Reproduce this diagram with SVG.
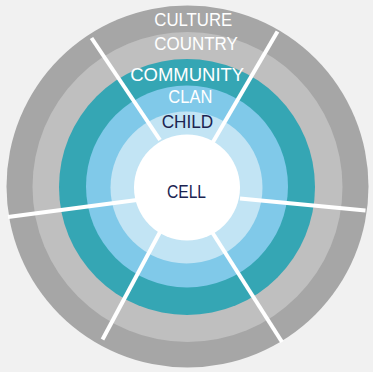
<svg xmlns="http://www.w3.org/2000/svg" width="373" height="372" viewBox="0 0 373 372">
  <style>
    .lbl { font-family: "Liberation Sans", Arial, sans-serif; font-size: 18px; text-anchor: middle; }
    .light { fill: #ffffff; }
    .dark { fill: #1b2451; }
    .spoke { stroke: #ffffff; stroke-width: 4; stroke-linecap: butt; fill: none; }
  </style>
  <rect x="0" y="0" width="373" height="372" fill="#f1f1f1"/>
  <g id="culture">
    <circle cx="187.5" cy="186.5" r="181" fill="#a6a6a6"/>
  </g>
  <g id="country">
    <circle cx="187.5" cy="187" r="155" fill="#bfbfbf"/>
  </g>
  <g id="community">
    <circle cx="187" cy="187" r="128" fill="#35a6b4"/>
  </g>
  <g id="clan">
    <circle cx="187" cy="186.5" r="101" fill="#80c9e9"/>
  </g>
  <g id="child">
    <circle cx="186.5" cy="187.5" r="76" fill="#c2e4f4"/>
  </g>
  <g id="connectors">
    <line class="spoke" x1="91.5" y1="38" x2="160" y2="140"/>
    <line class="spoke" x1="277.5" y1="31.5" x2="213" y2="142"/>
    <line class="spoke" x1="8" y1="217" x2="137" y2="200"/>
    <line class="spoke" x1="365.5" y1="210.5" x2="240" y2="198.5"/>
    <line class="spoke" x1="102.5" y1="339.5" x2="160" y2="232"/>
    <line class="spoke" x1="282" y1="342" x2="212" y2="232"/>
  </g>
  <g id="cell">
    <circle cx="187" cy="187.5" r="53" fill="#ffffff"/>
    <text class="lbl dark" x="186.5" y="198.3" textLength="39" lengthAdjust="spacingAndGlyphs">CELL</text>
  </g>
  <g id="labels">
    <text class="lbl light" x="193.3" y="25.8" textLength="78" lengthAdjust="spacingAndGlyphs">CULTURE</text>
    <text class="lbl light" x="196" y="50" textLength="83.5" lengthAdjust="spacingAndGlyphs">COUNTRY</text>
    <text class="lbl light" x="187.2" y="80.7" textLength="114" lengthAdjust="spacingAndGlyphs">COMMUNITY</text>
    <text class="lbl light" x="190.3" y="103.3" textLength="44" lengthAdjust="spacingAndGlyphs">CLAN</text>
    <text class="lbl dark" x="187.5" y="127.7" textLength="51.6" lengthAdjust="spacingAndGlyphs">CHILD</text>
  </g>
</svg>
